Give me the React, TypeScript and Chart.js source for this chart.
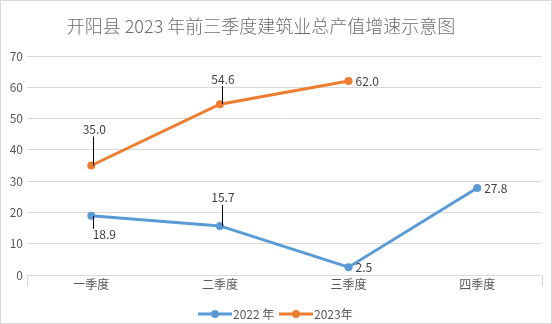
import React, { useEffect, useRef } from "react";
import { Chart, registerables } from "chart.js";

Chart.register(...registerables);

const TITLE = "开阳县 2023 年前三季度建筑业总产值增速示意图";
const categories = ["一季度", "二季度", "三季度", "四季度"];
const series2022Name = "2022 年";
const series2023Name = "2023年";
const values2022 = [18.9, 15.7, 2.5, 27.8];
const values2023: (number | null)[] = [35.0, 54.6, 62.0, null];
const yTicks = [0, 10, 20, 30, 40, 50, 60, 70];

const BLUE = "#5B9BD5";
const ORANGE = "#ED7D31";
const TEXT = "#595959";
const LABEL = "#404040";
const GRID = "#D9D9D9";
const FONT = '"Noto Sans CJK SC", "Noto Sans", sans-serif';

// label placement per dataset/point: [mode, distance]
const labelPlacement2022: [string, number][] = [["below", 19], ["above", 28], ["right", 0], ["right", 0]];
const labelPlacement2023: [string, number][] = [["above", 36], ["above", 25], ["right", 0], ["right", 0]];

const decorPlugin = {
  id: "decor",
  beforeDraw(chart: any) {
    const ctx = chart.ctx;
    ctx.save();
    ctx.fillStyle = "#ffffff";
    ctx.fillRect(0, 0, chart.width, chart.height);
    ctx.restore();
  },
  afterDraw(chart: any) {
    const ctx = chart.ctx;
    const area = chart.chartArea;
    ctx.save();
    // border
    ctx.strokeStyle = GRID;
    ctx.lineWidth = 1;
    ctx.strokeRect(0.5, 0.5, chart.width - 1, chart.height - 1);
    // outer tick marks
    ctx.beginPath();
    ctx.moveTo(Math.round(area.left) + 0.5, area.bottom);
    ctx.lineTo(Math.round(area.left) + 0.5, area.bottom + 11);
    ctx.moveTo(Math.round(area.right) + 0.5, area.bottom);
    ctx.lineTo(Math.round(area.right) + 0.5, area.bottom + 11);
    ctx.stroke();
    // title
    ctx.fillStyle = "#6E6E6E";
    ctx.font = "300 18px " + FONT;
    ctx.textAlign = "center";
    ctx.textBaseline = "middle";
    ctx.fillText(TITLE, 261, 26);
    // legend
    const names = [series2022Name, series2023Name];
    const colors = [BLUE, ORANGE];
    const starts = [198, 279];
    ctx.font = "12px " + FONT;
    ctx.textAlign = "left";
    const ly = 314;
    for (let i = 0; i < 2; i++) {
      const x0 = starts[i];
      ctx.strokeStyle = colors[i];
      ctx.lineWidth = 3;
      ctx.beginPath();
      ctx.moveTo(x0, ly);
      ctx.lineTo(x0 + 34, ly);
      ctx.stroke();
      ctx.fillStyle = colors[i];
      ctx.beginPath();
      ctx.arc(x0 + 17, ly, 4, 0, Math.PI * 2);
      ctx.fill();
      ctx.fillStyle = TEXT;
      ctx.fillText(names[i], x0 + 35, ly);
    }
    // data labels
    const placements = [labelPlacement2022, labelPlacement2023];
    ctx.font = "12px " + FONT;
    chart.data.datasets.forEach((ds: any, di: number) => {
      const meta = chart.getDatasetMeta(di);
      meta.data.forEach((pt: any, i: number) => {
        const v = ds.data[i];
        if (v === null || v === undefined) return;
        const [mode, dist] = placements[di][i];
        const text = Number(v).toFixed(1);
        ctx.fillStyle = LABEL;
        ctx.strokeStyle = "#000000";
        ctx.lineWidth = 1;
        const lx = Math.round(pt.x + 2) + 0.5;
        if (mode === "above") {
          const cy = pt.y - dist;
          ctx.textAlign = "center";
          ctx.textBaseline = "middle";
          ctx.fillText(text, pt.x + 3, cy);
          ctx.beginPath();
          ctx.moveTo(lx, cy + 7);
          ctx.lineTo(lx, pt.y);
          ctx.stroke();
        } else if (mode === "below") {
          const cy = pt.y + dist;
          ctx.textAlign = "center";
          ctx.textBaseline = "middle";
          ctx.fillText(text, pt.x + 13, cy);
          ctx.beginPath();
          ctx.moveTo(lx, pt.y);
          ctx.lineTo(lx, cy - 6);
          ctx.stroke();
        } else {
          ctx.textAlign = "left";
          ctx.textBaseline = "middle";
          ctx.fillText(text, pt.x + 7, pt.y);
        }
      });
    });
    ctx.restore();
  },
};

export default function App() {
  const ref = useRef<HTMLCanvasElement | null>(null);
  useEffect(() => {
    if (!ref.current) return;
    const chart = new Chart(ref.current, {
      type: "line",
      data: {
        labels: categories,
        datasets: [
          {
            label: series2022Name,
            data: values2022,
            borderColor: BLUE,
            backgroundColor: BLUE,
            borderWidth: 3,
            pointRadius: 4,
            pointBorderWidth: 0,
            pointBackgroundColor: BLUE,
            tension: 0,
          },
          {
            label: series2023Name,
            data: values2023,
            borderColor: ORANGE,
            backgroundColor: ORANGE,
            borderWidth: 3,
            pointRadius: 4,
            pointBorderWidth: 0,
            pointBackgroundColor: ORANGE,
            tension: 0,
          },
        ],
      },
      options: {
        responsive: false,
        animation: false,
        layout: { padding: { top: 56, left: 0, right: 10.5, bottom: 25 } },
        plugins: {
          legend: { display: false },
          title: { display: false },
          tooltip: { enabled: false },
        },
        scales: {
          x: {
            offset: true,
            grid: { display: false, drawTicks: false },
            border: { display: false },
            ticks: { color: TEXT, font: { family: FONT, size: 12 }, padding: 2 },
            afterFit: (s: any) => {
              s.height = 24;
            },
          },
          y: {
            min: 0,
            max: 70,
            afterBuildTicks: (s: any) => {
              s.ticks = yTicks.map((v) => ({ value: v }));
            },
            grid: { color: GRID, drawTicks: false, lineWidth: 1 },
            border: { display: false },
            ticks: { color: TEXT, font: { family: FONT, size: 12 }, padding: 4 },
            afterFit: (s: any) => {
              s.width = 27;
            },
          },
        },
      },
      plugins: [decorPlugin],
    });
    return () => chart.destroy();
  }, []);
  return (
    <div style={{ position: "absolute", left: 0, top: 0, width: 552, height: 324 }}>
      <canvas ref={ref} width={552} height={324} style={{ display: "block" }} />
    </div>
  );
}
